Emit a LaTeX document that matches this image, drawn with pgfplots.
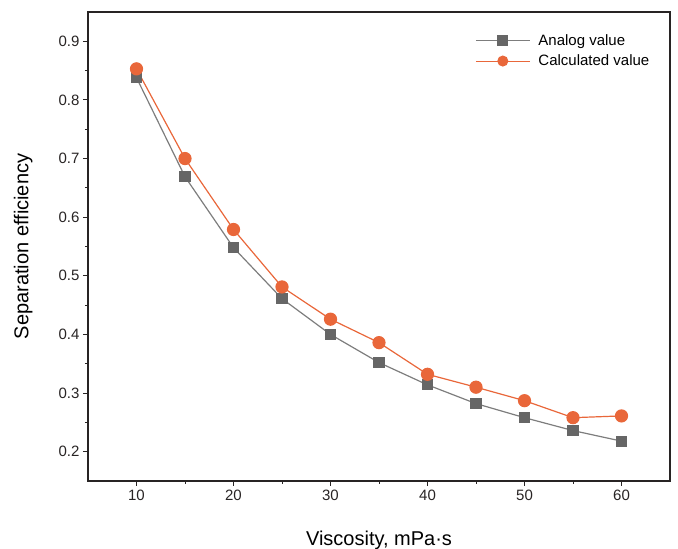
\documentclass[border=0pt]{standalone}
\usepackage{fontspec}
\setmainfont{Liberation Sans}
\usepackage{pgfplots}
\pgfplotsset{compat=1.18}
\usetikzlibrary{calc}
\definecolor{analogmark}{RGB}{102,102,102}
\definecolor{analogline}{RGB}{125,125,125}
\definecolor{calcval}{RGB}{233,103,58}
\definecolor{frame}{RGB}{40,36,36}

\begin{document}
\begin{tikzpicture}
\begin{axis}[
  scale only axis, width=582pt, height=469pt,
  xmin=5, xmax=65, ymin=0.15, ymax=0.95,
  xtick={10,20,30,40,50,60}, minor xtick={15,25,35,45,55},
  ytick={0.2,0.3,0.4,0.5,0.6,0.7,0.8,0.9},
  minor ytick={0.25,0.35,0.45,0.55,0.65,0.75,0.85},
  axis line style={frame, line width=1.2pt},
  every tick/.style={frame, line width=1pt},
  tick align=outside, major tick length=5pt, minor tick length=3pt,
  xtick pos=bottom, ytick pos=left,
  /pgf/number format/assume math mode=true,
  yticklabel style={/pgf/number format/.cd, fixed, fixed zerofill, precision=1},
  ticklabel style={font=\fontsize{15}{17}\selectfont, text=frame},
  xlabel={Viscosity, mPa·s},
  ylabel={Separation efficiency},
  xlabel style={font=\fontsize{20}{24}\selectfont, at={(axis description cs:0.5,-0.1386)}, anchor=base},
  ylabel style={font=\fontsize{20}{24}\selectfont, at={(axis description cs:-0.0893,0.5)}, anchor=south},
  legend style={draw=none, fill=none, at={(axis description cs:0.66,0.961)}, anchor=north west,
    font=\fontsize{15}{17}\selectfont, row sep=4pt},
  legend cell align=left,
  legend image code/.code={\draw[line width=1pt, mark repeat=2, mark phase=2, mark size=5pt] plot coordinates {(0pt,0pt) (27pt,0pt) (54pt,0pt)};
    \path (60pt,0pt);},
]
\addplot[color=analogline, line width=1.2pt, mark=square*, mark size=5pt,
  mark options={fill=analogmark, draw=analogmark}] coordinates {
  (10,0.838) (15,0.669) (20,0.548) (25,0.461) (30,0.400) (35,0.352)
  (40,0.314) (45,0.282) (50,0.258) (55,0.236) (60,0.218)};
\addlegendentry{Analog value}
\addplot[color=calcval, line width=1.2pt, mark=*, mark size=6pt,
  mark options={fill=calcval, draw=calcval}] coordinates {
  (10,0.853) (15,0.700) (20,0.579) (25,0.481) (30,0.426) (35,0.386)
  (40,0.332) (45,0.310) (50,0.287) (55,0.258) (60,0.261)};
\addlegendentry{Calculated value}
\end{axis}
\pgfresetboundingbox
\path[use as bounding box] ($(current axis.south west)+(-88pt,-68pt)$) rectangle ($(current axis.north east)+(8pt,12pt)$);
\end{tikzpicture}
\end{document}
